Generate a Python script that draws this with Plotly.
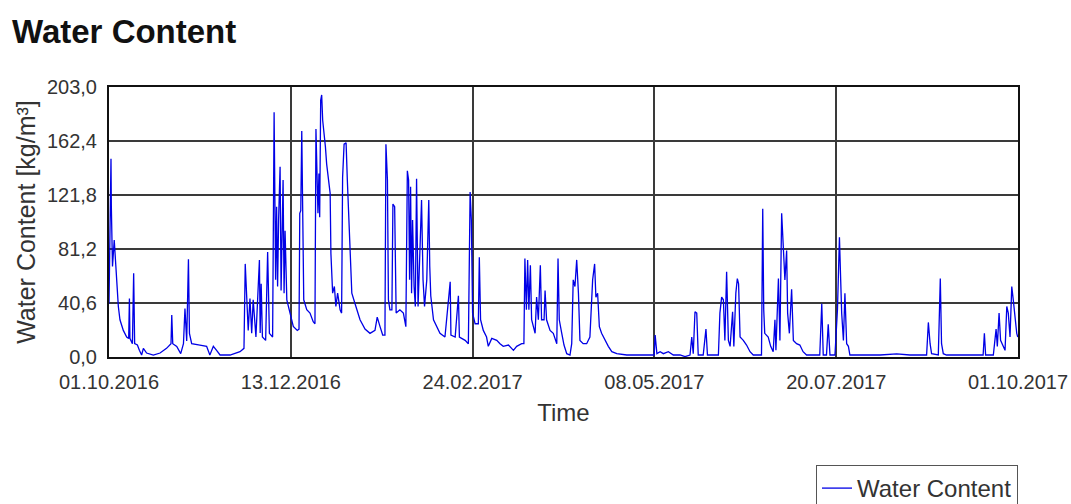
import pandas as pd
import plotly.graph_objects as go

# ---- data (day offset from 01.10.2016, water content kg/m3) ----
start_date = "2016-10-01"

day_offset = [
    0, 0.8, 0.94, 1.4, 2.1, 3.1, 3.75, 4.4, 5.75, 7.1, 7.9, 8.2, 8.4, 9.4, 9.9, 10.3, 11.4, 12.2,
    13.1, 13.8, 15.1, 17.8, 20.5, 23.1, 24.9, 25.2, 25.6, 27.2, 28.8, 29.9, 30.5, 31.2, 31.9, 32.3,
    33.2, 36.5, 39.2, 40.5, 41.9, 43.2, 44.6, 48.6, 52.6, 54.2, 54.7, 55.3, 55.9, 56.6, 57.3, 57.9,
    59.0, 60.4, 60.7, 61.1, 61.6, 62.9, 63.7, 64.4, 65.7, 66.3, 66.5, 66.9, 67.3, 67.7, 68.1, 68.7,
    69.1, 69.5, 69.9, 70.3, 70.7, 71.4, 72.7, 74.0,
    75.6, 76.3, 76.6, 77.0, 77.4, 77.8, 78.2, 79.4, 80.7, 82.0, 82.7, 83.1, 83.5, 83.9, 84.3, 84.6,
    85.0, 85.4, 85.8, 86.3, 86.9, 87.4, 88.1, 88.8, 89.1, 89.8, 90.5, 91.1, 91.8, 92.8, 93.4, 93.8,
    94.4, 95.2, 95.7, 96.3, 96.8, 97.5, 98.8, 100.8, 102.8, 104.8, 106.8, 107.7, 108.8, 109.9, 110.8,
    111.2, 111.8, 112.2, 112.8, 113.6, 114.0, 114.7, 115.3, 116.8, 118.2, 119.2, 119.8, 120.3, 120.7,
    121.1, 121.5, 121.9, 122.5, 123.0, 123.5, 124.1, 124.9, 125.5, 126.1, 126.7, 127.6, 128.0, 128.4,
    128.8, 129.2, 130.3, 132.9, 134.9, 137.0, 137.3, 139.0, 140.3, 140.7, 143.0, 144.3, 145.0, 145.5,
    146.0,
    147.0, 148.3, 148.7, 149.2, 150.3, 151.6, 152.3, 153.7, 155.7, 157.0, 158.3, 160.4, 162.4, 163.7,
    165.7, 166.6, 167.0, 167.6, 168.1, 168.6, 169.2, 169.7, 171.1, 171.7, 172.4, 173.2, 173.7, 174.7,
    175.1, 175.7, 177.1, 178.4, 179.8, 180.3, 180.8, 181.8, 182.7, 183.8, 185.1, 185.8, 186.4, 187.1,
    187.8, 188.5, 189.1, 190.4, 191.8, 193.1, 194.2, 195.0, 195.5, 196.2, 196.9, 197.8, 199.2, 200.5,
    201.9, 203.9, 207.9, 214.6, 218.0, 218.9, 219.3, 220.0, 221.3,
    222.6, 224.6, 226.6, 229.3, 231.3, 233.3, 234.0, 234.6, 235.3, 236.0, 236.6, 238.6, 239.7, 240.3,
    244.7, 245.3, 246.0, 246.7, 247.3, 248.0, 248.7, 249.4, 250.4, 250.9, 251.7, 252.3, 252.8, 253.4,
    254.7, 256.0, 257.4, 258.7, 262.0, 262.5, 262.9, 263.3, 264.7, 265.7, 266.7, 267.4, 267.8, 268.8,
    269.4, 270.1, 270.8, 271.4, 272.1, 272.5, 273.2, 274.1, 274.8, 276.1, 277.4, 278.7, 280.1, 285.4,
    286.2, 286.8, 288.1, 288.8, 289.5, 291.5, 292.5, 293.3, 293.8, 294.2, 294.9, 295.5, 296.2, 296.9,
    297.5,
    300.2, 309.6, 316.3, 321.6, 328.3, 329.0, 329.7, 330.3, 333.0, 333.8, 334.3, 335.0, 336.3, 343.0,
    351.0, 351.5, 352.0, 355.1, 356.2, 356.7, 357.4, 358.0, 359.1, 359.8, 360.5, 361.1, 361.8, 362.5,
    363.1, 363.8, 364.5, 364.9,
]

water_content = [
    40, 149, 113, 68, 88, 53, 38, 28, 20, 15, 14, 44, 14, 10, 63, 10, 9, 5,
    1.5, 6.5, 3, 1.5, 3, 6.5, 10, 31.5, 10, 8, 2.5, 10, 36.5, 12, 73.5, 17.8,
    10, 9, 8, 1.5, 8, 5, 1.5, 1.5, 4, 6.5, 70, 45, 20, 44, 17.8, 43,
    15, 73, 18, 55, 15, 12.5, 79, 17.8, 15, 184, 133, 58, 113, 53, 103, 143,
    50, 108, 133, 48, 95, 43, 33, 23,
    20, 21, 108, 110, 170, 113, 43, 35.5, 33, 26.5, 25, 171.5, 133, 108, 138, 105,
    193, 197, 178, 170, 158, 145, 135, 123, 78, 48, 53, 38, 48, 35.5, 33, 135,
    160, 161, 133, 103, 73, 48, 40, 28, 21, 17.8, 20, 30, 23, 16.5, 16.5,
    160, 133, 43, 35.5, 35.5, 115, 113, 33, 35.5, 33, 22.8, 140, 133, 58,
    128, 48, 103, 53, 38, 134, 38, 83, 118, 58, 38, 58, 94, 118,
    68, 46, 28, 17.8, 15, 56.5, 16.5, 15, 46, 15, 12.5, 10, 124, 103,
    33,
    25, 25, 75, 28, 20, 15, 8, 14, 12.5, 10, 8, 9, 5, 8,
    10, 10, 74, 35.5, 73, 35.5, 69, 28, 17.8, 45, 28, 69, 28, 28,
    50, 28, 20, 17.8, 10, 74, 28, 17.8, 9, 2.5, 1.5, 10, 58, 53,
    73, 48, 12.5, 10, 10, 15, 58, 70, 45, 48, 22.8, 17.8, 12.5, 8,
    4, 2.5, 1.5, 1.5, 1, 1.5, 16.5, 2.5, 4,
    2.5, 4, 1.5, 1.5, 0.3, 1.5, 15, 2.5, 34, 33, 1.5, 1.5, 21, 1.5,
    1.5, 33, 45, 43, 12.5, 64, 12.5, 8, 34, 8, 48, 59, 55, 15,
    12.5, 9, 4, 1.5, 1.5, 111.5, 35.5, 17.8, 15, 8, 4, 28, 5, 59,
    12.5, 108, 80, 58, 80, 33, 17.8, 51, 12.5, 10, 9, 4, 1.5, 1.5,
    40, 1.5, 1.5, 24.5, 1.5, 1.5, 35.5, 90, 58, 33, 12.5, 48, 10, 8,
    1.5,
    1.5, 1.5, 2.3, 1.5, 1.5, 26, 10, 2.5, 1.5, 59, 10, 2.5, 1.5, 1.5,
    1.5, 17.8, 1.5, 1.5, 21, 8, 33, 12.5, 8, 5, 38, 33, 15, 53,
    43, 28, 17.8, 15,
]

x_tick_dates = ["2016-10-01", "2016-12-13", "2017-02-24", "2017-05-08", "2017-07-20", "2017-10-01"]
x_tick_labels = ["01.10.2016", "13.12.2016", "24.02.2017", "08.05.2017", "20.07.2017", "01.10.2017"]
y_tick_values = [0, 40.6, 81.2, 121.8, 162.4, 203.0]
y_tick_labels = ["0,0", "40,6", "81,2", "121,8", "162,4", "203,0"]

times = pd.Timestamp(start_date) + pd.to_timedelta(day_offset, unit="D")

FONT = "Liberation Sans, Arial, sans-serif"
FIG_W, FIG_H = 1071, 504

fig = go.Figure()
fig.add_trace(go.Scatter(
    x=times, y=water_content, mode="lines", name="Water Content",
    line=dict(color="#0000e6", width=1.3),
))

fig.update_layout(
    width=FIG_W, height=FIG_H,
    margin=dict(l=109, r=53, t=87, b=147, autoexpand=False),
    paper_bgcolor="white", plot_bgcolor="white",
    font=dict(family=FONT, color="#333333"),
    title=dict(text="<b>Water Content</b>", font=dict(size=33, color="#111111", family=FONT),
               xref="container", yref="container", x=12 / FIG_W, xanchor="left",
               y=1 - 31 / FIG_H, yanchor="middle"),
    showlegend=True,
    legend=dict(x=1, xanchor="right", y=-0.4, yanchor="top",
                bordercolor="#555555", borderwidth=1, itemwidth=30,
                bgcolor="white", font=dict(size=24, color="#333333", family=FONT)),
    xaxis=dict(
        type="date", range=[x_tick_dates[0], x_tick_dates[-1]],
        tickmode="array", tickvals=x_tick_dates, ticktext=x_tick_labels,
        tickfont=dict(size=20), ticks="outside", ticklen=6, tickcolor="rgba(0,0,0,0)",
        ticklabeloverflow="allow",
        showgrid=True, gridcolor="#3a3a3a", gridwidth=1.5,
        showline=True, linecolor="#111111", linewidth=2, mirror=True,
        title=dict(text="Time", font=dict(size=24), standoff=12),
        zeroline=False, automargin=False,
    ),
    yaxis=dict(
        range=[0, 203.0], tickmode="array", tickvals=y_tick_values, ticktext=y_tick_labels,
        tickfont=dict(size=20), ticks="outside", ticklen=6, tickcolor="rgba(0,0,0,0)",
        showgrid=True, gridcolor="#3a3a3a", gridwidth=1.5,
        showline=True, linecolor="#111111", linewidth=2, mirror=True,
        title=dict(text="Water Content [kg/m³]", font=dict(size=25), standoff=4),
        zeroline=False, automargin=False,
    ),
)

fig.write_html(
    "out.html",
    config={"displayModeBar": False},
    post_script="document.body.style.margin='0';document.body.style.overflow='hidden';",
)
